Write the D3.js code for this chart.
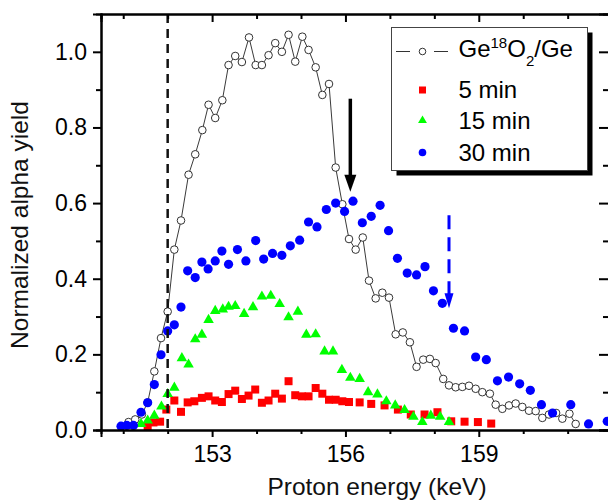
<!DOCTYPE html>
<html>
<head>
<meta charset="utf-8">
<script src="https://cdn.jsdelivr.net/npm/d3@7"></script>
<style>
  html, body { margin: 0; padding: 0; background: #fff; }
  svg { display: block; font-family: "Liberation Sans", Arial, sans-serif; }
</style>
</head>
<body>
<div id="chart"></div>
<script>
// Ge18O2/Ge reference (open circles, joined)
const refEnergy = [151.12, 151.27, 151.42, 151.55, 151.70, 151.85, 152.00, 152.15, 152.30, 152.47,
  152.62, 152.78, 152.92, 153.07, 153.23, 153.37, 153.52, 153.67, 153.83, 153.98,
  154.12, 154.27, 154.42, 154.57, 154.72, 154.87, 155.03, 155.17, 155.33, 155.48,
  155.63, 155.78, 155.93, 156.08, 156.23, 156.39, 156.53, 156.68, 156.83, 156.98,
  157.13, 157.29, 157.45, 157.60, 157.75, 157.90, 158.03, 158.20, 158.33, 158.48,
  158.63, 158.78, 158.93, 159.08, 159.25, 159.38, 159.53, 159.68, 159.83, 159.98,
  160.13, 160.28, 160.43, 160.58, 160.74, 160.88, 161.04, 161.18];
const refYield = [0.021, 0.028, 0.041, 0.073, 0.155, 0.243, 0.313, 0.477, 0.554, 0.675,
  0.729, 0.793, 0.860, 0.825, 0.872, 0.965, 0.989, 0.973, 1.038, 0.965,
  0.965, 0.991, 1.023, 1.000, 1.045, 0.974, 1.040, 1.005, 0.959, 0.886,
  0.915, 0.694, 0.597, 0.505, 0.477, 0.509, 0.395, 0.348, 0.363, 0.350,
  0.253, 0.258, 0.232, 0.167, 0.186, 0.188, 0.177, 0.135, 0.118, 0.113,
  0.114, 0.117, 0.109, 0.100, 0.096, 0.067, 0.056, 0.065, 0.070, 0.061,
  0.051, 0.050, 0.032, 0.041, 0.045, 0.030, 0.043, 0.016];

// 5 min
const min5Energy = [151.55, 151.68, 151.83, 151.97, 152.15, 152.30, 152.45, 152.60, 152.77, 152.92,
  153.07, 153.22, 153.37, 153.52, 153.67, 153.82, 153.97, 154.12, 154.27, 154.42,
  154.57, 154.72, 154.87, 155.02, 155.17, 155.33, 155.48, 155.63, 155.78, 155.93,
  156.08, 156.32, 156.58, 156.88, 157.18, 157.47, 157.78, 158.07, 158.38, 158.68,
  158.98, 159.28];
const min5Yield = [0.010, 0.020, 0.022, 0.054, 0.078, 0.048, 0.073, 0.076, 0.085, 0.089,
  0.078, 0.074, 0.095, 0.104, 0.082, 0.091, 0.107, 0.072, 0.078, 0.096,
  0.083, 0.129, 0.092, 0.089, 0.089, 0.111, 0.096, 0.080, 0.080, 0.076,
  0.074, 0.073, 0.069, 0.065, 0.054, 0.041, 0.041, 0.047, 0.023, 0.022,
  0.021, 0.017];

// 15 min
const min15Energy = [151.40, 151.55, 151.70, 151.86, 152.00, 152.15, 152.32, 152.47, 152.62, 152.77,
  152.92, 153.07, 153.24, 153.37, 153.52, 153.72, 153.92, 154.12, 154.32, 154.52,
  154.72, 154.93, 155.12, 155.33, 155.53, 155.72, 155.92, 156.11, 156.32, 156.51,
  156.72, 156.92, 157.12, 157.33, 157.53, 157.73, 157.92, 158.13, 158.33];
const min15Yield = [0.016, 0.025, 0.038, 0.062, 0.095, 0.112, 0.190, 0.173, 0.240, 0.252,
  0.291, 0.315, 0.319, 0.326, 0.328, 0.307, 0.325, 0.353, 0.355, 0.333,
  0.298, 0.313, 0.252, 0.253, 0.208, 0.208, 0.159, 0.138, 0.135, 0.100,
  0.094, 0.076, 0.065, 0.053, 0.035, 0.021, 0.038, 0.035, 0.021];

// 30 min
const min30Energy = [150.95, 151.08, 151.23, 151.40, 151.55, 151.70, 151.85, 152.00, 152.15, 152.30,
  152.45, 152.62, 152.77, 152.91, 153.07, 153.22, 153.37, 153.57, 153.76, 153.98,
  154.16, 154.36, 154.57, 154.76, 154.97, 155.17, 155.36, 155.57, 155.78, 155.98,
  156.17, 156.38, 156.58, 156.78, 156.97, 157.17, 157.39, 157.60, 157.79, 157.98,
  158.18, 158.43, 158.68, 158.93, 159.17, 159.42, 159.67, 159.92, 160.16, 160.41,
  160.66, 161.07, 161.47, 161.89];
const min30Yield = [0.010, 0.012, 0.012, 0.047, 0.072, 0.120, 0.199, 0.262, 0.278, 0.325,
  0.421, 0.403, 0.444, 0.426, 0.447, 0.473, 0.438, 0.477, 0.447, 0.501,
  0.452, 0.467, 0.462, 0.487, 0.502, 0.550, 0.537, 0.583, 0.600, 0.578,
  0.605, 0.548, 0.565, 0.594, 0.527, 0.454, 0.415, 0.410, 0.432, 0.368,
  0.335, 0.269, 0.262, 0.193, 0.186, 0.130, 0.140, 0.122, 0.105, 0.067,
  0.045, 0.067, 0.016, 0.023];

const xMajorTicks = [153, 156, 159];
const xMinorTicks = [151, 152, 154, 155, 157, 158, 160, 161];
const yMajorTicks = [0, 0.2, 0.4, 0.6, 0.8, 1.0];
const yMinorTicks = [0.1, 0.3, 0.5, 0.7, 0.9];

// markers: threshold line, solid arrow, dashed arrow
const thresholdEnergy = 152.0;
const solidArrow = { energy: 156.11, from: 0.876, to: 0.63 };
const dashedArrow = { energy: 158.33, from: 0.568, to: 0.322 };

const width = 608, height = 502;
const plot = { left: 101, right: 609, top: 14, bottom: 430 };

const svg = d3.select("#chart")
  .append("svg")
  .attr("width", width)
  .attr("height", height);

const x = d3.scaleLinear()
  .domain([150.5, 161.93])
  .range([plot.left, plot.right]);

const y = d3.scaleLinear()
  .domain([0, 1.1])
  .range([plot.bottom, plot.top]);

const zip = (xs, ys) => xs.map((v, i) => ({ e: v, v: ys[i] }));
const refData = zip(refEnergy, refYield);

// reference curve
svg.append("path")
  .datum(refData)
  .attr("fill", "none")
  .attr("stroke", "#3a3a3a")
  .attr("stroke-width", 1)
  .attr("d", d3.line().x(d => x(d.e)).y(d => y(d.v)));

svg.append("g")
  .selectAll("circle")
  .data(refData)
  .join("circle")
  .attr("cx", d => x(d.e))
  .attr("cy", d => y(d.v))
  .attr("r", 3.8)
  .attr("fill", "#fff")
  .attr("stroke", "#333")
  .attr("stroke-width", 1);

// 5 min squares
svg.append("g")
  .selectAll("rect")
  .data(zip(min5Energy, min5Yield))
  .join("rect")
  .attr("x", d => x(d.e) - 4)
  .attr("y", d => y(d.v) - 4)
  .attr("width", 8)
  .attr("height", 8)
  .attr("fill", "#ff0000");

// 15 min triangles
const tri = d3.symbol().type(d3.symbolTriangle).size(48);
svg.append("g")
  .selectAll("path")
  .data(zip(min15Energy, min15Yield))
  .join("path")
  .attr("transform", d => `translate(${x(d.e)}, ${y(d.v)})`)
  .attr("d", tri)
  .attr("fill", "#00ff00");

// 30 min dots
svg.append("g")
  .selectAll("circle")
  .data(zip(min30Energy, min30Yield))
  .join("circle")
  .attr("cx", d => x(d.e))
  .attr("cy", d => y(d.v))
  .attr("r", 4.6)
  .attr("fill", "#0000ff");

// dashed threshold line
svg.append("line")
  .attr("x1", x(thresholdEnergy))
  .attr("x2", x(thresholdEnergy))
  .attr("y1", plot.top)
  .attr("y2", plot.bottom)
  .attr("stroke", "#111")
  .attr("stroke-width", 2.5)
  .attr("stroke-dasharray", "9,6");

// black arrow
const ax = x(solidArrow.energy);
svg.append("line")
  .attr("x1", ax).attr("x2", ax)
  .attr("y1", y(solidArrow.from))
  .attr("y2", y(solidArrow.to) - 14)
  .attr("stroke", "#000")
  .attr("stroke-width", 3.5);
svg.append("path")
  .attr("d", `M${ax - 6},${y(solidArrow.to) - 17} L${ax + 6},${y(solidArrow.to) - 17} L${ax},${y(solidArrow.to)} Z`)
  .attr("fill", "#000");

// blue dashed arrow
const bx = x(dashedArrow.energy);
svg.append("line")
  .attr("x1", bx).attr("x2", bx)
  .attr("y1", y(dashedArrow.from))
  .attr("y2", y(dashedArrow.to) - 12)
  .attr("stroke", "#0000ff")
  .attr("stroke-width", 3)
  .attr("stroke-dasharray", "14,8");
svg.append("path")
  .attr("d", `M${bx - 4.5},${y(dashedArrow.to) - 15} L${bx + 4.5},${y(dashedArrow.to) - 15} L${bx},${y(dashedArrow.to)} Z`)
  .attr("fill", "#0000ff");

// axes
const tickFont = 23;

const styleAxis = g => {
  g.select(".domain").attr("stroke", "#000").attr("stroke-width", 2);
  g.selectAll(".tick line").attr("stroke", "#000").attr("stroke-width", 2);
  g.selectAll(".tick text")
    .attr("fill", "#000")
    .style("font-size", tickFont + "px")
    .style("font-family", '"Liberation Sans", Arial, sans-serif');
};

// bottom
svg.append("g")
  .attr("transform", `translate(0, ${plot.bottom})`)
  .call(d3.axisBottom(x).tickValues(xMinorTicks).tickSize(4).tickFormat(""))
  .call(styleAxis);
svg.append("g")
  .attr("transform", `translate(0, ${plot.bottom})`)
  .call(d3.axisBottom(x).tickValues(xMajorTicks).tickSize(7).tickPadding(9).tickFormat(d3.format("d")))
  .call(styleAxis);

// top (ticks inward)
svg.append("g")
  .attr("transform", `translate(0, ${plot.top})`)
  .call(d3.axisBottom(x).tickValues(xMinorTicks).tickSize(5).tickFormat(""))
  .call(styleAxis);
svg.append("g")
  .attr("transform", `translate(0, ${plot.top})`)
  .call(d3.axisBottom(x).tickValues(xMajorTicks).tickSize(8).tickFormat(""))
  .call(styleAxis);

// left
svg.append("g")
  .attr("transform", `translate(${plot.left}, 0)`)
  .call(d3.axisLeft(y).tickValues(yMinorTicks).tickSize(5).tickFormat(""))
  .call(styleAxis);
svg.append("g")
  .attr("transform", `translate(${plot.left}, 0)`)
  .call(d3.axisLeft(y).tickValues(yMajorTicks).tickSize(8).tickPadding(6).tickFormat(d3.format(".1f")))
  .call(styleAxis);

// right (ticks inward)
svg.append("g")
  .attr("transform", `translate(${plot.right}, 0)`)
  .call(d3.axisLeft(y).tickValues(yMinorTicks).tickSize(6).tickFormat(""))
  .call(styleAxis);
svg.append("g")
  .attr("transform", `translate(${plot.right}, 0)`)
  .call(d3.axisLeft(y).tickValues(yMajorTicks).tickSize(10).tickFormat(""))
  .call(styleAxis);

// axis titles
svg.append("text")
  .attr("x", 377)
  .attr("y", 495)
  .attr("text-anchor", "middle")
  .style("font-size", "24.5px")
  .attr("fill", "#111")
  .text("Proton energy (keV)");

svg.append("text")
  .attr("transform", "translate(28, 225) rotate(-90)")
  .attr("text-anchor", "middle")
  .style("font-size", "24.5px")
  .attr("fill", "#111")
  .text("Normalized alpha yield");

// legend
const legend = svg.append("g")
  .attr("transform", "translate(391.5, 27.5)");

legend.append("rect")
  .attr("x", 5).attr("y", 5)
  .attr("width", 196).attr("height", 143)
  .attr("fill", "#000");
legend.append("rect")
  .attr("width", 196).attr("height", 143)
  .attr("fill", "#fff")
  .attr("stroke", "#444")
  .attr("stroke-width", 1);

const symX = 31;
const textX = 67;

// row 1: reference
legend.append("line")
  .attr("x1", 4.5).attr("x2", 18.5).attr("y1", 24).attr("y2", 24)
  .attr("stroke", "#333").attr("stroke-width", 1);
legend.append("line")
  .attr("x1", 42.5).attr("x2", 56.5).attr("y1", 24).attr("y2", 24)
  .attr("stroke", "#333").attr("stroke-width", 1);
legend.append("circle")
  .attr("cx", symX).attr("cy", 24).attr("r", 3.3)
  .attr("fill", "#fff").attr("stroke", "#333");

const geText = legend.append("text")
  .attr("x", textX)
  .attr("y", 29.5)
  .style("font-size", "24px")
  .attr("fill", "#000");
geText.append("tspan").text("Ge");
geText.append("tspan").attr("dy", -9).style("font-size", "15px").text("18");
geText.append("tspan").attr("dy", 9).text("O");
geText.append("tspan").attr("dy", 9).style("font-size", "15px").text("2");
geText.append("tspan").attr("dy", -9).text("/Ge");

// rows 2-4
const rows = [
  { label: "5 min", yy: 62.5, kind: "square", color: "#ff0000" },
  { label: "15 min", yy: 93, kind: "triangle", color: "#00ff00" },
  { label: "30 min", yy: 125, kind: "circle", color: "#0000ff" }
];

rows.forEach(r => {
  if (r.kind === "square") {
    legend.append("rect")
      .attr("x", symX - 3.5).attr("y", r.yy - 3.5)
      .attr("width", 7).attr("height", 7)
      .attr("fill", r.color);
  } else if (r.kind === "triangle") {
    legend.append("path")
      .attr("transform", `translate(${symX}, ${r.yy})`)
      .attr("d", d3.symbol().type(d3.symbolTriangle).size(34))
      .attr("fill", r.color);
  } else {
    legend.append("circle")
      .attr("cx", symX).attr("cy", r.yy).attr("r", 3.8)
      .attr("fill", r.color);
  }
  legend.append("text")
    .attr("x", textX)
    .attr("y", r.yy + 8.3)
    .style("font-size", "24px")
    .attr("fill", "#000")
    .text(r.label);
});
</script>
</body>
</html>
